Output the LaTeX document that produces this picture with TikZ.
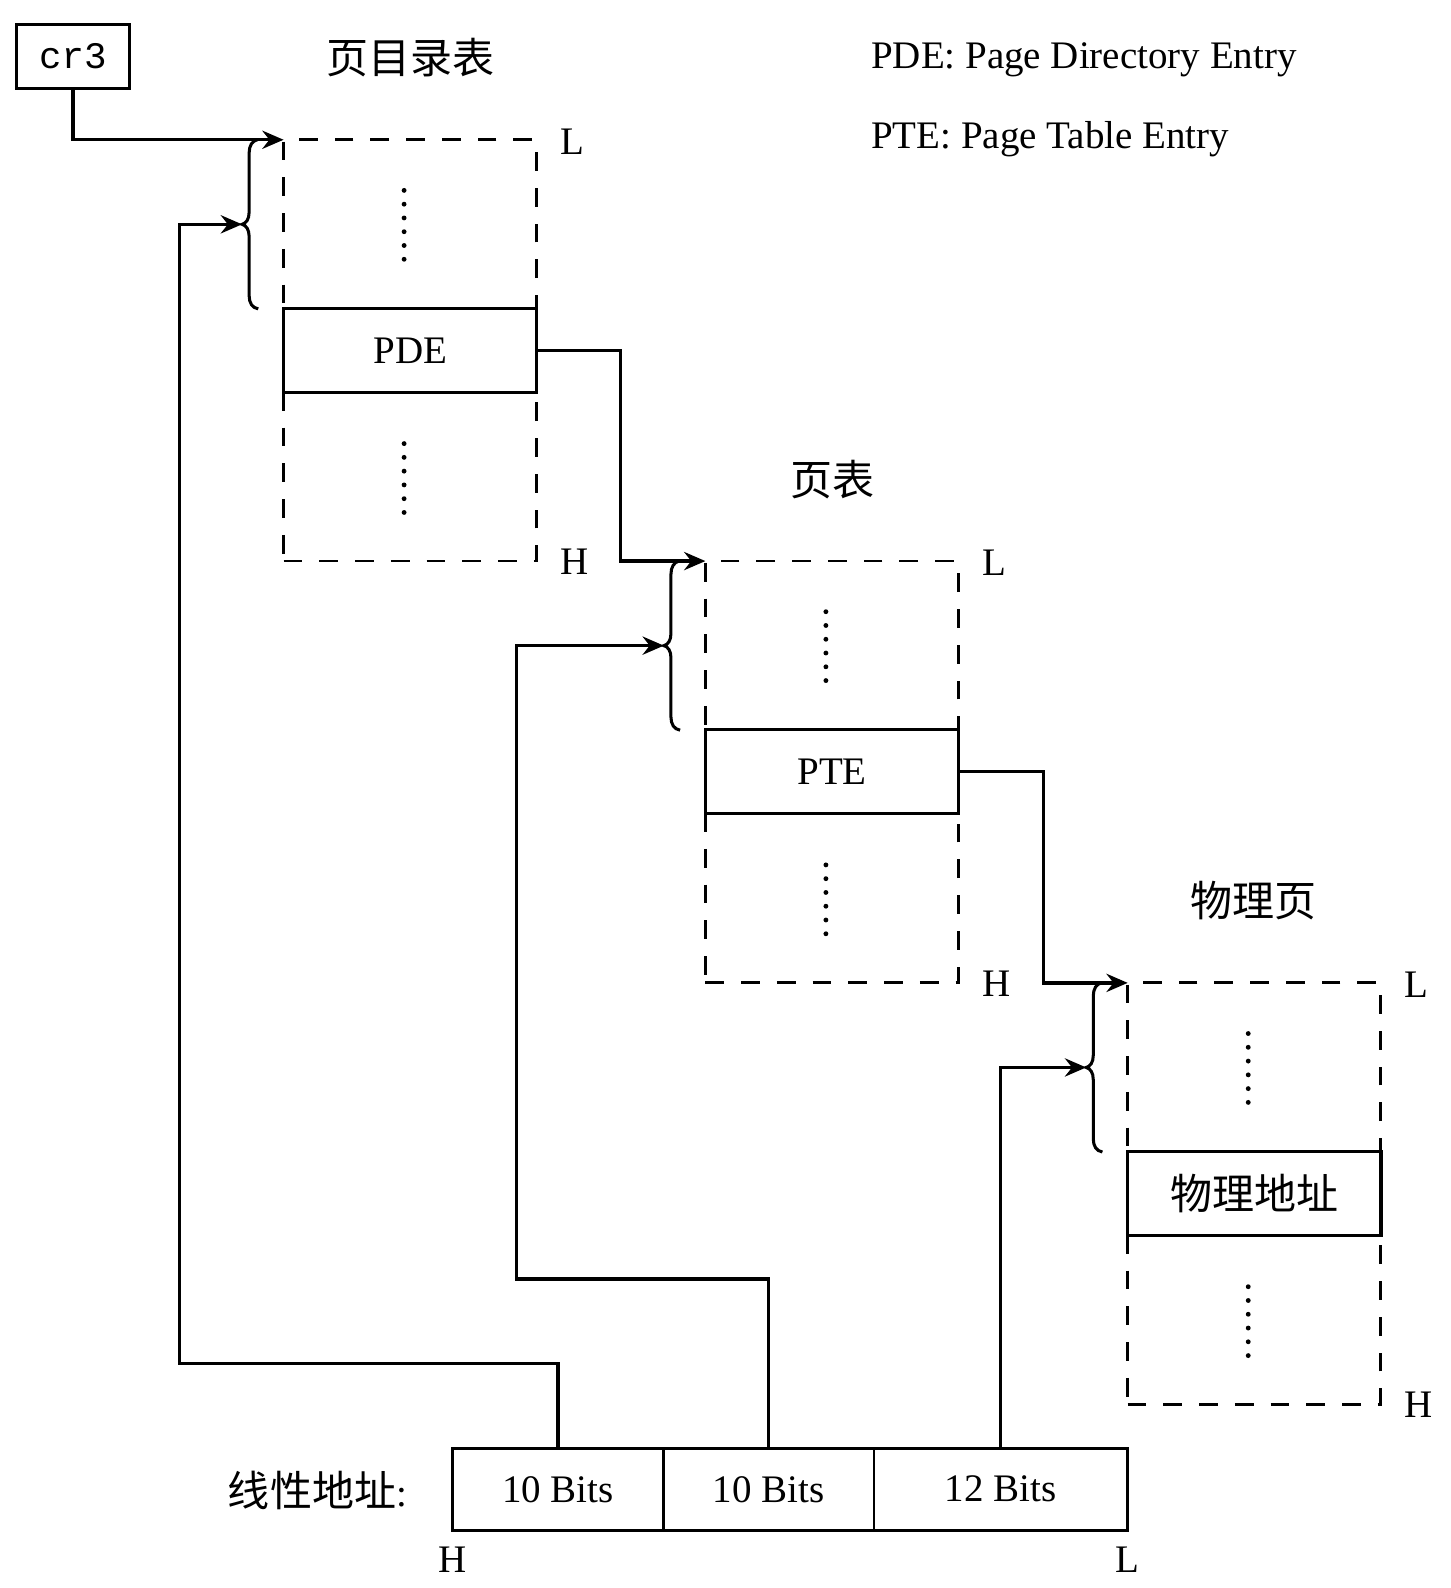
\documentclass[tikz,border=0pt]{standalone}
\usepackage{fontspec}
\setmainfont{Liberation Serif}
\newfontfamily\cjk{Noto Sans CJK SC}
\newfontfamily\crmono{Liberation Mono}
\usetikzlibrary{arrows.meta,calc}
\begin{document}
\begin{tikzpicture}[x=1pt,y=-1pt,
  lat/.style={font=\fontsize{38.5}{44}\selectfont, inner sep=0pt},
  zh/.style={font=\cjk\fontsize{41.5}{46}\selectfont, inner sep=0pt},
  dbox/.style={draw, line width=2.8pt, dash pattern=on 18.5pt off 16.8pt,
    minimum width=250pt, minimum height=416pt, inner sep=0pt, outer sep=0pt},
  ebox/.style={draw, line width=3.2pt, fill=white, minimum width=250pt,
    minimum height=83pt, inner sep=0pt, outer sep=0pt},
  fbox/.style={draw, line width=2.6pt, minimum height=81pt, inner sep=0pt,
    outer sep=0pt, font=\fontsize{38.5}{44}\selectfont},
  conn/.style={line width=3.3pt, -{Stealth[length=21pt,width=18pt,inset=7pt]}},
  bracepic/.pic={\draw[line width=3pt]
    (-26,0) .. controls (-31,1) and (-34,6) .. (-34,13) -- (-34,71.5)
    .. controls (-34,78.5) and (-37,82.5) .. (-41,83.5)
    .. controls (-37,84.5) and (-34,88.5) .. (-34,95.5) -- (-34,154)
    .. controls (-34,161) and (-31,166) .. (-25,167);}
]
\useasboundingbox (0,0) rectangle (1432,1568);

% cr3
\node[draw, line width=2.8pt, minimum width=112pt, minimum height=63pt,
  inner sep=0pt, outer sep=0pt, font=\crmono\fontsize{37}{40}\selectfont]
  (cr3) at (72,55.5) {cr3};

% legend
\node[lat, anchor=base west] (lg1) at (860,68) {PDE: Page Directory Entry};
\node[lat, anchor=base west] (lg2) at (860,147) {PTE: Page Table Entry};

% tables
\node[dbox] (b1) at (405,346) {};
\node[dbox] (b2) at (821.5,762) {};
\node[dbox] (b3) at (1238.5,1178.5) {};
\node[ebox, font=\fontsize{38.5}{44}\selectfont] (pde) at (b1.center) {PDE};
\node[ebox, font=\fontsize{38.5}{44}\selectfont] (pte) at (b2.center) {PTE};
\node[ebox, font=\cjk\fontsize{41.5}{46}\selectfont] (pa) at (b3.center) {物理地址};

% titles
\node[zh] (t1) at (405,57) {页目录表};
\node[zh] (t2) at (822,474) {页表};
\node[zh] (t3) at (1238,889) {物理页};

% L / H labels, dots, braces
\foreach \b in {b1,b2,b3}{
  \node[lat, anchor=west] at ([xshift=23pt,yshift=-2pt]\b.north east) {L};
  \node[lat, anchor=west] at ([xshift=23pt,yshift=-1pt]\b.south east) {H};
  \foreach \k in {0,...,5}{
    \fill ($(\b.north)+(-6,{50+13.6*\k})$) circle (2.4pt);
    \fill ($(\b.north)+(-6,{300+13.6*\k})$) circle (2.4pt);
  }
  \pic at (\b.north west) {bracepic};
}

\coordinate (tip1) at ($(b1.north west)+(-41,83.5)$);
\coordinate (tip2) at ($(b2.north west)+(-41,83.5)$);
\coordinate (tip3) at ($(b3.north west)+(-41,83.5)$);

% linear address
\node[fbox, minimum width=208pt] (f1) at (551,1470.5) {10 Bits};
\node[fbox, minimum width=208pt] (f2) at (759,1470.5) {10 Bits};
\node[fbox, minimum width=250pt] (f3) at (988,1470.5) {12 Bits};
\node[anchor=east, inner sep=0pt] (la) at (402,1472)
  {{\cjk\fontsize{41.5}{46}\selectfont 线性地址}{\fontsize{38.5}{44}\selectfont :}};
\node[lat] (hh) at (447,1540) {H};
\node[lat] (ll) at (1113,1540) {L};

\coordinate (k1) at (177,1346);
\coordinate (k2) at (510,1263);

% connectors
\draw[conn] (cr3.south) |- (b1.north west);
\draw[conn] (pde.east) -- ++(83,0) |- (b2.north west);
\draw[conn] (pte.east) -- ++(84,0) |- (b3.north west);
\draw[conn] (f1.north) |- (k1) |- (tip1);
\draw[conn] (f2.north) |- (k2) |- (tip2);
\draw[conn] (f3.north) |- (tip3);
\end{tikzpicture}
\end{document}
